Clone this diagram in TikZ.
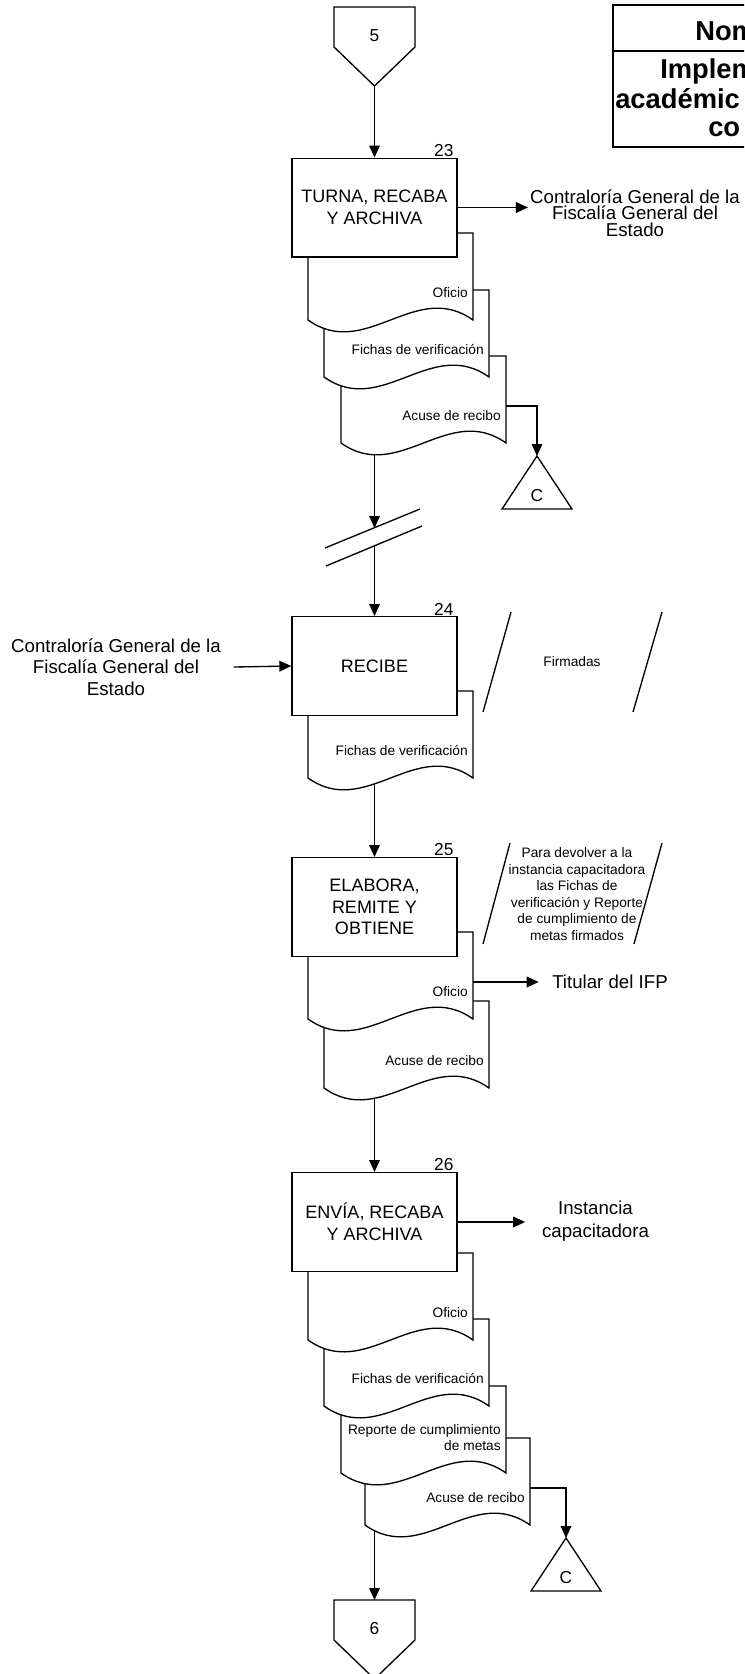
\documentclass[tikz,border=0pt]{standalone}
\usepackage{fontspec}
\setmainfont{Liberation Sans}
\usetikzlibrary{arrows.meta}
\pgfdeclarelayer{back}
\pgfsetlayers{back,main}
\tikzset{
  flow/.style={
    line width=1pt,
    -{Triangle[length=9pt, width=8pt]},
  },
  proc/.style={
    rectangle,
    draw,
    fill=white,
    line width=1pt,
    minimum width=123.75pt,
    minimum height=74pt,
    align=center,
    inner sep=0pt,
    font=\fontsize{13.5}{16.3}\selectfont,
  },
  stepnum/.style={anchor=south east, inner xsep=3pt, inner ysep=0.5pt, font=\fontsize{13}{15}\selectfont},
  sheet/.style={draw, fill=white, line width=1pt},
  sheetlabel/.style={anchor=south east, inner sep=0pt, text depth=0pt, align=right, font=\fontsize{10.3}{12.2}\selectfont},
  party/.style={align=center, inner sep=1.5pt, font=\fontsize{14}{12.5}\selectfont},
  remark/.style={align=center, inner sep=0pt, font=\fontsize{10.3}{12.4}\selectfont},
  symlabel/.style={inner sep=0pt, font=\fontsize{13}{15}\selectfont},
  hdr/.style={anchor=west, inner sep=0pt, font=\bfseries\fontsize{20.5}{24}\selectfont},
}

% document sheet: name, left x, top y, label
\newcommand{\sheetdoc}[4]{%
  \draw[sheet] (#2,#3) -- ({#2+165},#3) -- ({#2+165},{#3+87})
    .. controls ({#2+107.25},{#3+46}) and ({#2+57.75},{#3+128}) .. (#2,{#3+87}) -- cycle;
  \coordinate (#1-out) at ({#2+165},{#3+50});
  \coordinate (#1-foot) at (#2,{#3+87});
  \node[sheetlabel] (#1) at ({#2+160},{#3+65}) {#4};
}
% off-page connector: name, centre x, top y, label
\newcommand{\pageconn}[4]{%
  \draw[sheet] ({#2-40.5},#3) -- ({#2+40.5},#3) -- ({#2+40.5},{#3+40}) -- (#2,{#3+79}) -- ({#2-40.5},{#3+40}) -- cycle;
  \coordinate (#1-in) at (#2,#3);
  \coordinate (#1-tip) at (#2,{#3+79});
  \node[symlabel] (#1) at (#2,{#3+29}) {#4};
}
% archive triangle: name, apex x, apex y
\newcommand{\archive}[3]{%
  \draw[sheet] (#2,#3) -- ({#2+35},{#3+53}) -- ({#2-35},{#3+53}) -- cycle;
  \coordinate (#1-in) at (#2,#3);
  \node[symlabel] (#1) at (#2,{#3+40}) {C};
}

\begin{document}
\begin{tikzpicture}[x=0.75pt, y=-0.75pt]
    \useasboundingbox (0,0) rectangle (744,1674);
    \clip (0,0) rectangle (744,1674);

    % header
    \draw[line width=1.5pt] (613,5) rectangle (770,147);
    \draw[line width=1.5pt] (613,51) -- (770,51);
    \node[hdr] (h1) at (695,31) {Nom};
    \node[hdr] (h2) at (660,71) {Implem};
    \node[hdr] (h3) at (615,99) {académic};
    \node[hdr] (h4) at (708,129) {co};

    % 23
    \pageconn{p5}{374.5}{7}{5}
    \sheetdoc{d23c}{341}{356}{Acuse de recibo}
    \sheetdoc{d23b}{324}{290}{Fichas de verificación}
    \sheetdoc{d23a}{308}{233}{Oficio}
    \node[proc] (b23) at (374.5,207.5) {TURNA, RECABA\\Y ARCHIVA};
    \node[stepnum] (n23) at (b23.north east) {23};
    \node[party] (cg1) at (635,213) {Contraloría General de la\\Fiscalía General del\\Estado};
    \archive{c1}{537}{456}

    % break
    \draw[line width=1pt] (325,548) -- (420,509);
    \draw[line width=1pt] (326,566) -- (422,526);
    \coordinate (k1) at (374.5,528);
    \coordinate (k2) at (374.5,546);

    % 24
    \sheetdoc{d24}{308}{691}{Fichas de verificación}
    \node[proc] (b24) at (374.5,666) {RECIBE};
    \node[stepnum] (n24) at (b24.north east) {24};
    \node[party, font=\fontsize{14}{16}\selectfont] (cg2) at (116,667) {Contraloría General de la\\Fiscalía General del\\Estado};
    \node[remark] (firm) at (572,662) {Firmadas};
    \draw[line width=1pt] (483,712) -- (511,612);
    \draw[line width=1pt] (633,712) -- (662,612);

    % 25
    \sheetdoc{d25b}{324}{1001}{Acuse de recibo}
    \sheetdoc{d25a}{308}{932}{Oficio}
    \node[proc] (b25) at (374.5,907) {ELABORA,\\REMITE Y\\OBTIENE};
    \node[stepnum] (n25) at (b25.north east) {25};
    \node[remark] (why) at (577,894) {Para devolver a la\\instancia capacitadora\\las Fichas de\\verificación y Reporte\\de cumplimiento de\\metas firmados};
    \draw[line width=1pt] (483,944) -- (510,843);
    \draw[line width=1pt] (634,944) -- (662,843);
    \node[party, anchor=west, inner sep=0pt] (ifp) at (552,982) {Titular del IFP};

    % 26
    \sheetdoc{d26d}{365}{1438}{Acuse de recibo}
    \sheetdoc{d26c}{341}{1386}{Reporte de cumplimiento\\de metas}
    \sheetdoc{d26b}{324}{1319}{Fichas de verificación}
    \sheetdoc{d26a}{308}{1253}{Oficio}
    \node[proc] (b26) at (374.5,1222) {ENVÍA, RECABA\\Y ARCHIVA};
    \node[stepnum] (n26) at (b26.north east) {26};
    \node[party, font=\fontsize{14}{17.25}\selectfont] (inst) at (595.5,1221.5) {Instancia\\capacitadora};
    \archive{c2}{566}{1538}
    \pageconn{p6}{374.5}{1600}{6}

    \begin{pgfonlayer}{back}
      \draw[flow] (p5-tip) -- (b23.north);
      \draw[flow] (b23.east) -- (b23.east -| cg1.west);
      \draw[flow] (d23c-out) -| (c1-in);
      \draw[flow] (b23.south |- d23c-foot) -- (k1);
      \draw[flow] (k2) -- (b24.north);
      \draw[flow] ([xshift=8pt]cg2.east) -- (b24.west);
      \draw[flow] (b24.south |- d24-foot) -- (b25.north);
      \draw[flow] (d25a-out) -- ([xshift=-10pt]ifp.west |- d25a-out);
      \draw[flow] (b25.south |- d25b-foot) -- (b26.north);
      \draw[flow] (b26.east) -- ([xshift=-11pt]inst.west |- b26.east);
      \draw[flow] (d26d-out) -| (c2-in);
      \draw[flow] (b26.south |- d26d-foot) -- (p6-in);
    \end{pgfonlayer}
\end{tikzpicture}
\end{document}
